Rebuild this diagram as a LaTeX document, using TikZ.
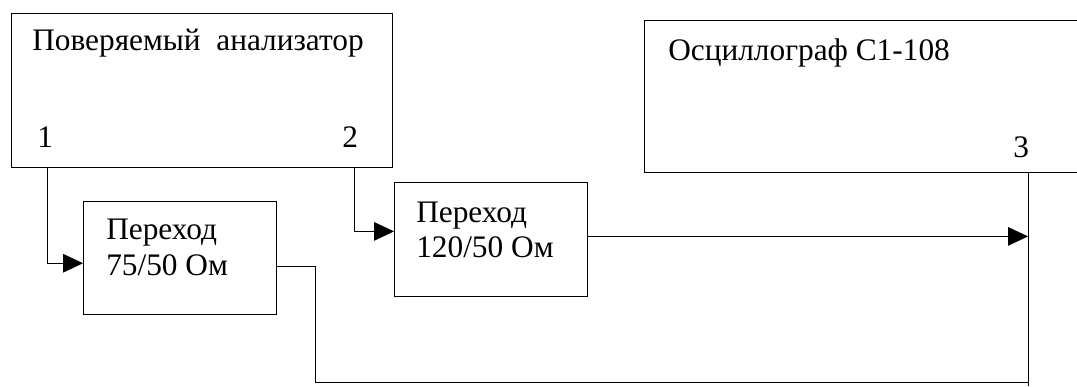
\documentclass[tikz,border=0pt]{standalone}
\usepackage{fontspec}
\setmainfont{Liberation Serif}
\usetikzlibrary{arrows.meta,calc}
\begin{document}
\begin{tikzpicture}[x=0.75pt,y=-0.75pt,
  box/.style={draw,line width=0.6pt,inner sep=0pt,anchor=north west},
  lbl/.style={anchor=base west,inner sep=0pt,font=\fontsize{23.5}{27}\selectfont},
  wire/.style={line width=0.6pt},
  arr/.style={wire,-{Triangle[length=15pt,width=14pt]}}]
\clip (0,0) rectangle (1077,386);
\fill[white] (0,0) rectangle (1077,386);
% boxes
\node[box,minimum width=285.75pt,minimum height=115.5pt] (A) at (11,13) {};
\node[box,minimum width=144.75pt,minimum height=84.75pt] (B) at (83,201) {};
\node[box,minimum width=144.75pt,minimum height=85.5pt] (D) at (394,182) {};
\node[box,minimum width=360pt,minimum height=114pt] (C) at (644,20) {};
% texts
\node[lbl] (tA) at (32,50) {Поверяемый\ \ анализатор};
\node[lbl] (n1) at (37,147) {1};
\node[lbl] (n2) at (342,147) {2};
\node[lbl] (tB1) at (106,239) {Переход};
\node[lbl] (tB2) at (106,275) {75/50 Ом};
\node[lbl] (tD1) at (416,222) {Переход};
\node[lbl] (tD2) at (416,257) {120/50 Ом};
\node[lbl] (tC) at (668,60) {Осциллограф С1-108};
\node[lbl] (n3) at (1013,157) {3};
% connector points
\coordinate (c3) at (1028,172);
\coordinate (j) at (1028,382);
\coordinate (e) at (1028,386);
% connectors
\draw[arr] ([xshift=27pt]A.south west) |- ([yshift=-4pt]B.west);
\draw[arr] ([xshift=-28.5pt]A.south east) |- ([yshift=6pt]D.west);
\draw[arr] ([yshift=2.25pt]D.east) -- ([yshift=2.25pt]D.east -| c3);
\draw[wire] ([yshift=-6.4pt]B.east) -- ++(39,0) |- (j);
\draw[wire] (c3) -- (e);
\end{tikzpicture}
\end{document}
